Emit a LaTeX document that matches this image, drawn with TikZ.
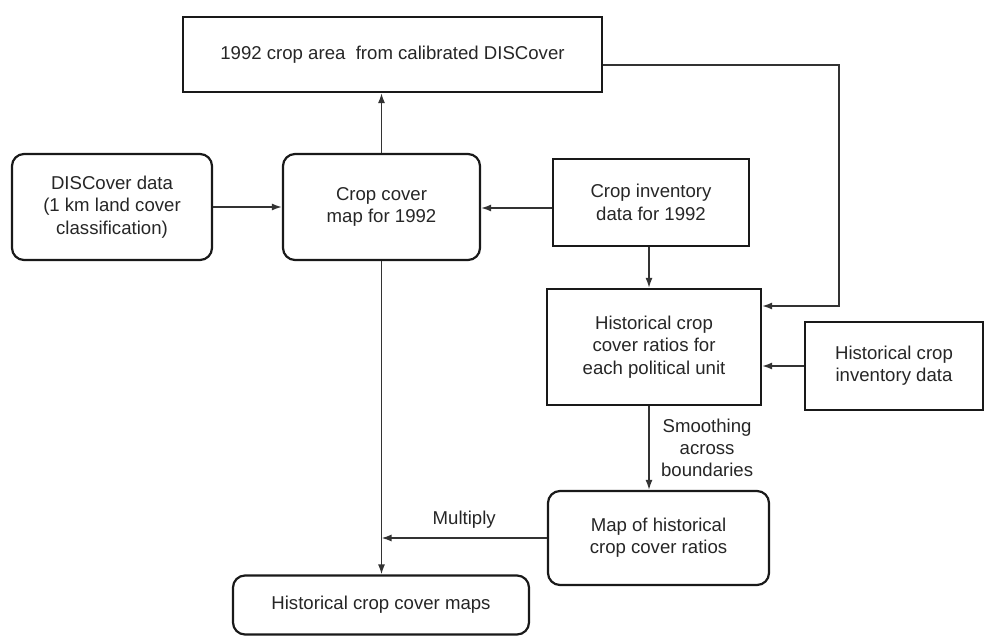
\documentclass[tikz,border=0pt]{standalone}
\usepackage{fontspec}
\setmainfont{Liberation Sans}
\usetikzlibrary{arrows.meta}
\begin{document}
\begin{tikzpicture}[x=1pt,y=-1pt,
  every node/.style={font=\fontsize{18.6}{22.3}\selectfont, text=black!85},
  sqbox/.style={draw=black!90, line width=2.2pt, rectangle, align=center, inner sep=0pt},
  rdbox/.style={draw=black!90, line width=2.2pt, rectangle, rounded corners=12pt, align=center, inner sep=0pt},
  conn/.style={draw=black!80, line width=1.5pt, -{Latex[length=10pt,width=7pt]}},
  plain/.style={draw=black!80, line width=1.5pt}
]
\useasboundingbox (0,0) rectangle (984,636);

\node[sqbox, minimum width=419pt, minimum height=75pt] (top) at (392.5,54.5) {1992 crop area \ from calibrated DISCover};
\node[rdbox, minimum width=200pt, minimum height=106pt] (disc) at (112,207) {DISCover data\\(1 km land cover\\classification)};
\node[rdbox, minimum width=197pt, minimum height=106pt] (ccm) at (381.5,207) {Crop cover\\map for 1992};
\node[sqbox, minimum width=196pt, minimum height=87pt] (inv) at (651,202.5) {Crop inventory\\data for 1992};
\node[sqbox, minimum width=214pt, minimum height=116pt] (hr) at (654,347) {Historical crop\\cover ratios for\\each political unit};
\node[sqbox, minimum width=178pt, minimum height=88pt] (hinv) at (894,366) {Historical crop\\inventory data};
\node[rdbox, minimum width=221pt, minimum height=94pt] (map) at (658.5,538) {Map of historical\\crop cover ratios};
\node[rdbox, minimum width=296pt, minimum height=59pt] (hmaps) at (381,605) {Historical crop cover maps};

\coordinate (corner) at (839,65);

% connectors
\draw[conn] (ccm.north) -- (ccm.north |- top.south);
\draw[conn] (disc.east) -- (ccm.west);
\draw[conn] ([yshift=-5.5pt]inv.west) -- ([yshift=-5.5pt]inv.west -| ccm.east);
\draw[conn] ([xshift=-2pt]inv.south) -- ([xshift=-2pt]inv.south |- hr.north);
\draw[conn] (top.east |- corner) -- (corner) -- (corner |- 0,306) -- (hr.east |- 0,306);
\draw[conn] (hinv.west) -- (hinv.west -| hr.east);
\draw[conn] ([xshift=-5pt]hr.south) -- ([xshift=-5pt]hr.south |- map.north)
  node[pos=0.5, right=8pt, align=center] (smooth) {Smoothing\\across\\boundaries};
\draw[conn] (ccm.south) -- (ccm.south |- hmaps.north);
\draw[conn] (map.west) -- (map.west -| ccm.south)
  node[pos=0.5, above=6pt] (mult) {Multiply};
\end{tikzpicture}
\end{document}
